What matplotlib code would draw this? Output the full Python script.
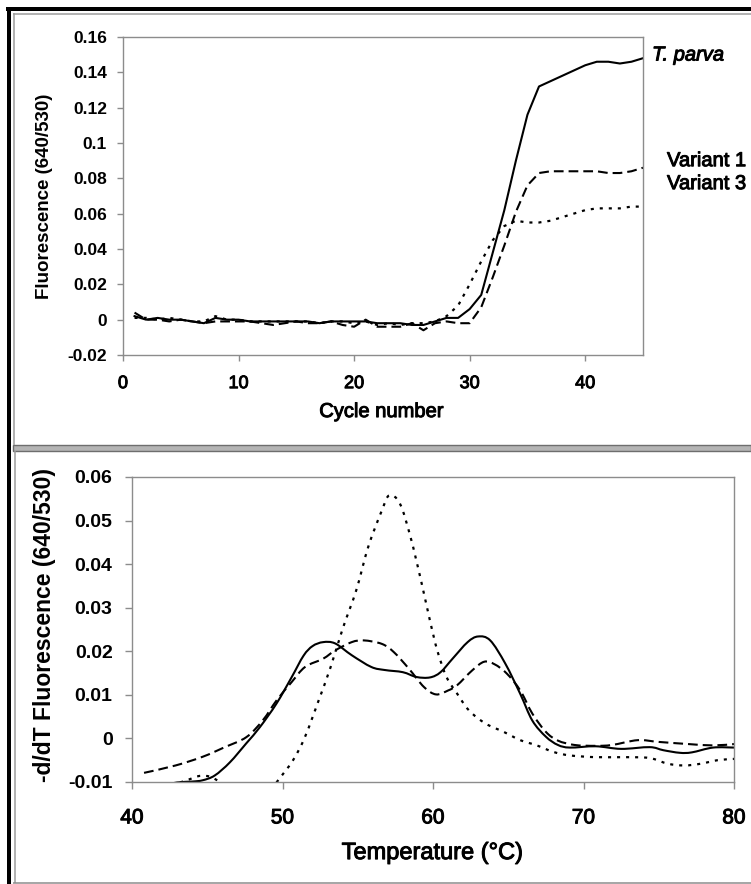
import numpy as np
import matplotlib
matplotlib.use("Agg")
import matplotlib.pyplot as plt
import matplotlib.patheffects as pe
from matplotlib.lines import Line2D
from matplotlib.patches import Rectangle, PathPatch
from matplotlib.path import Path

plt.rcParams['font.family'] = ['Liberation Sans', 'DejaVu Sans']
plt.rcParams['lines.scale_dashes'] = False

# amplification curves, cycles 1-45
cycles = np.arange(1, 46)
amp_tparva = [0.002, 0.000, 0.001, 0.000, 0.000, -0.001, -0.002, 0.001, 0.000, 0.000,
              -0.001, -0.001, -0.001, -0.001, -0.001, -0.001, -0.002, -0.001, -0.001, -0.001,
              -0.001, -0.002, -0.002, -0.002, -0.003, -0.003, -0.001, 0.001, 0.001, 0.006,
              0.014, 0.038, 0.062, 0.090, 0.116, 0.132, 0.135, 0.138, 0.141, 0.144,
              0.146, 0.146, 0.145, 0.146, 0.148]
amp_var1 = [0.004, 0.000, 0.000, -0.001, 0.000, -0.001, -0.002, -0.001, -0.001, -0.001,
            -0.001, -0.002, -0.003, -0.002, -0.001, -0.002, -0.002, -0.001, -0.003, -0.004,
            0.000, -0.004, -0.004, -0.004, -0.002, -0.006, -0.002, -0.001, -0.002, -0.002,
            0.007, 0.024, 0.042, 0.061, 0.076, 0.083, 0.084, 0.084, 0.084, 0.084,
            0.084, 0.083, 0.083, 0.084, 0.086]
amp_var3 = [0.001, 0.001, 0.000, 0.001, 0.000, -0.001, -0.001, 0.002, 0.000, 0.000,
            -0.001, -0.001, -0.001, -0.001, -0.001, -0.001, -0.002, -0.001, -0.001, -0.002,
            -0.001, -0.003, -0.002, -0.003, -0.002, -0.002, -0.001, 0.002, 0.008, 0.020,
            0.033, 0.045, 0.053, 0.056, 0.055, 0.055, 0.056, 0.058, 0.060, 0.062,
            0.063, 0.063, 0.063, 0.064, 0.064]

# melting curves (-dF/dT)
melt_t_tparva = [41.0, 42.0, 43.0, 44.0, 44.7, 45.5, 46.5, 47.6, 48.5, 49.6, 50.6, 51.4, 52.0,
                 52.7, 53.5, 54.6, 55.9, 56.8, 58.0, 58.9, 59.8, 60.5, 61.3, 62.3, 63.0, 63.8,
                 64.8, 65.8, 66.6, 67.5, 68.3, 69.1, 70.8, 72.5, 74.4, 75.3, 76.4, 77.2, 78.6, 80.0]
melt_tparva = [-0.0115, -0.0108, -0.0101, -0.0099, -0.0096, -0.0085, -0.0055, -0.0011, 0.0026,
               0.0080, 0.0140, 0.0190, 0.0212, 0.0221, 0.0218, 0.0191, 0.0164, 0.0157, 0.0152,
               0.0141, 0.0140, 0.0152, 0.0183, 0.0221, 0.0234, 0.0225, 0.0172, 0.0102, 0.0041,
               0.0004, -0.0015, -0.0021, -0.0018, -0.0024, -0.0020, -0.0027, -0.0033, -0.0032,
               -0.0021, -0.0021]

melt_t_var1 = [40.8, 42.9, 44.7, 46.1, 47.6, 48.7, 49.6, 50.6, 51.5, 52.7, 53.5, 54.6, 55.4,
               56.6, 57.4, 58.4, 59.4, 60.2, 61.0, 61.6, 62.6, 63.4, 64.1, 64.9, 65.8, 66.6,
               67.5, 68.3, 69.4, 70.8, 71.9, 73.6, 75.0, 77.0, 78.6, 80.0]
melt_var1 = [-0.0079, -0.0062, -0.0042, -0.0021, 0.0003, 0.0042, 0.0087, 0.0129, 0.0164, 0.0183,
             0.0202, 0.0221, 0.0225, 0.0217, 0.0198, 0.0160, 0.0118, 0.0101, 0.0110, 0.0122,
             0.0156, 0.0176, 0.0170, 0.0149, 0.0110, 0.0057, 0.0015, -0.0005, -0.0015, -0.0017,
             -0.0015, -0.0004, -0.0008, -0.0013, -0.0016, -0.0013]

melt_t_var3 = [43.2, 43.8, 44.5, 45.2, 45.9, np.nan,
               49.6, 50.7, 51.5, 52.4, 53.2, 54.0, 54.9, 55.7, 56.6, 57.1, 57.8, 58.5, 59.2,
               59.8, 60.3, 60.9, 61.6, 62.4, 63.5, 64.7, 65.8, 66.9, 68.0, 69.1, 70.8, 72.8,
               74.4, 75.6, 76.7, 77.8, 78.9, 80.0]
melt_var3 = [-0.0101, -0.0094, -0.0086, -0.0088, -0.0101, np.nan,
             -0.0101, -0.0050, 0.0004, 0.0087, 0.0164, 0.0252, 0.0340, 0.0440, 0.0523, 0.0558,
             0.0539, 0.0463, 0.0363, 0.0270, 0.0200, 0.0141, 0.0103, 0.0064, 0.0034, 0.0015,
             -0.0004, -0.0016, -0.0031, -0.0039, -0.0043, -0.0043, -0.0045, -0.0058, -0.0062,
             -0.0058, -0.0050, -0.0047]

W, H = 751, 884
fig = plt.figure(figsize=(W / 100, H / 100), dpi=100)

SPINE = '#8c8c8c'
DASH = (7, 3.6)
DOT = (2.2, 4.3)
HEAVY = [pe.withStroke(linewidth=0.7, foreground='black')]


def smooth_line(ax, xs, ys, **kw):
    """Smoothed line (Catmull-Rom as cubic Bezier) through each run of points."""
    xs = np.asarray(xs, float)
    ys = np.asarray(ys, float)
    ok = ~np.isnan(xs)
    breaks = np.flatnonzero(~ok)
    starts = np.r_[0, breaks + 1]
    ends = np.r_[breaks, len(xs)]
    for a, b in zip(starts, ends):
        P = np.column_stack([xs[a:b], ys[a:b]])
        if len(P) < 2:
            continue
        Q = np.vstack([P[0], P, P[-1]])
        verts = [P[0]]
        codes = [Path.MOVETO]
        for i in range(1, len(Q) - 2):
            c1 = Q[i] + (Q[i + 1] - Q[i - 1]) / 6
            c2 = Q[i + 1] - (Q[i + 2] - Q[i]) / 6
            verts += [c1, c2, Q[i + 1]]
            codes += [Path.CURVE4] * 3
        ax.add_patch(PathPatch(Path(verts, codes), fill=False, capstyle='butt', **kw))


def style_axes(ax, ysize, xsize, xpad, ypad, ticklen):
    for s in ax.spines.values():
        s.set_color(SPINE)
        s.set_linewidth(1.0)
    ax.tick_params(direction='out', color=SPINE, length=ticklen, width=1.0)
    ax.tick_params(axis='y', labelsize=ysize, pad=ypad)
    ax.tick_params(axis='x', labelsize=xsize, pad=xpad)
    ax.yaxis.set_major_formatter(plt.FuncFormatter(lambda v, p: '%g' % round(v, 4)))
    for lab in ax.get_yticklabels():
        lab.set_fontweight('bold')
    for lab in ax.get_xticklabels():
        lab.set_path_effects(HEAVY)


# --- amplification panel
ax1 = fig.add_axes([123 / W, 1 - 355 / H, 520 / W, 318 / H])
ax1.plot(cycles, amp_tparva, color='black', lw=1.5)
ax1.plot(cycles, amp_var1, color='black', lw=1.5, dashes=DASH)
ax1.plot(cycles, amp_var3, color='black', lw=1.6, dashes=DOT)
ax1.set_xlim(0, 45)
ax1.set_ylim(-0.02, 0.16)
ax1.set_xticks([0, 10, 20, 30, 40])
ax1.set_yticks(np.arange(-0.02, 0.161, 0.02))
style_axes(ax1, 12.5, 13, 10, 7, 4.5)
ax1.set_xlabel('Cycle number', fontsize=14.5, path_effects=HEAVY)
ax1.xaxis.set_label_coords(0.497, -0.148)
ax1.set_ylabel('Fluorescence (640/530)', fontsize=13.5, fontweight='bold')
ax1.yaxis.set_label_coords(-0.134, 0.5)

ax1.text(45.78, 0.1498, 'T. parva', fontsize=14.5, style='italic', va='center', ha='left',
         clip_on=False, path_effects=HEAVY)
ax1.text(47.08, 0.090, 'Variant 1', fontsize=14.5, va='center', ha='left', clip_on=False,
         path_effects=HEAVY)
ax1.text(47.08, 0.077, 'Variant 3', fontsize=14.5, va='center', ha='left', clip_on=False,
         path_effects=HEAVY)

# --- melting panel
ax2 = fig.add_axes([132 / W, 1 - 782 / H, 602 / W, 305 / H])
smooth_line(ax2, melt_t_tparva, melt_tparva, color='black', lw=1.5)
smooth_line(ax2, melt_t_var1, melt_var1, color='black', lw=1.5, linestyle=(0, DASH))
smooth_line(ax2, melt_t_var3, melt_var3, color='black', lw=1.6, linestyle=(0, DOT))
ax2.set_xlim(40, 80)
ax2.set_ylim(-0.01, 0.06)
ax2.set_xticks([40, 50, 60, 70, 80])
ax2.set_yticks(np.arange(-0.01, 0.061, 0.01))
style_axes(ax2, 14, 15, 14, 9, 5)
ax2.set_xlabel('Temperature (\u00b0C)', fontsize=17, path_effects=HEAVY)
ax2.xaxis.set_label_coords(0.499, -0.197)
ax2.set_ylabel('-d/dT Fluorescence (640/530)', fontsize=16.5, fontweight='bold')
ax2.yaxis.set_label_coords(-0.126, 0.515)


# panel frames
def hline(y, x0, x1, color, lw):
    fig.add_artist(Line2D([x0 / W, x1 / W], [1 - y / H, 1 - y / H], color=color,
                          lw=lw * 0.72, solid_capstyle='butt'))


def vline(x, y0, y1, color, lw):
    fig.add_artist(Line2D([x / W, x / W], [1 - y0 / H, 1 - y1 / H], color=color,
                          lw=lw * 0.72, solid_capstyle='butt'))


hline(8.5, 6.5, W, 'black', 4)
vline(8.5, 6.5, H, 'black', 4)
hline(13.5, 13, W, '#9a9a9a', 1.5)
vline(13.5, 13, 445, '#9a9a9a', 1.5)
fig.add_artist(Rectangle((13 / W, 1 - 451 / H), (W - 13) / W, 6 / H, facecolor='#b4b4b4',
                         edgecolor='#6e6e6e', lw=1.0))
vline(15, 451, 883, '#9a9a9a', 1.5)
hline(882.5, 13, W, '#8a8a8a', 1.5)

fig.savefig('out.png', dpi=100)
